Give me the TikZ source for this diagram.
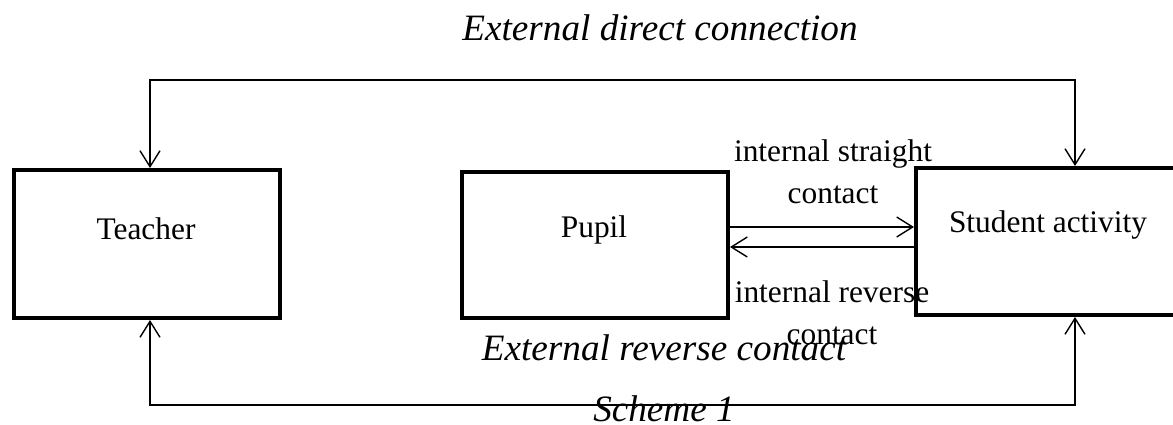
\documentclass[tikz,border=0pt]{standalone}
\usepackage{fontspec}
\setmainfont{Liberation Serif}
\usetikzlibrary{arrows.meta}

\tikzset{
	caja/.style={draw, line width=2pt, inner sep=0pt},
	texto/.style={font=\fontsize{15.7}{21}\selectfont, inner sep=0pt},
	cursiva/.style={font=\fontsize{18.6}{22}\selectfont\itshape, inner sep=0pt},
	enlace/.style={line width=0.7pt},
	>={Straight Barb[length=8pt, width=10pt]}
}

\begin{document}
\begin{tikzpicture}[x=0.5pt, y=-0.5pt]

	\useasboundingbox (0,0) rectangle (1173,424);

	% 1. Definición de Nodos (cajas)
	\node[caja, minimum width=133pt, minimum height=74pt] (T) at (147,244) {};
	\node[caja, minimum width=133pt, minimum height=73pt] (P) at (595,245) {};
	\node[caja, minimum width=131pt, minimum height=73.5pt] (S) at (1047,241.5) {};

	% Textos de las cajas
	\node[texto] (Tlbl) at (146,229) {Teacher};
	\node[texto] (Plbl) at (594,230) {Pupil};
	\node[texto] (Slbl) at (1048,225) {Student activity};

	% Esquinas de los lazos externos
	\coordinate (tl) at (150,80);
	\coordinate (tr) at (1075,80);
	\coordinate (bl) at (150,405);
	\coordinate (br) at (1075,405);
	\coordinate (fwd) at (0,227);
	\coordinate (bwd) at (0,247);

	% 2. Conexiones externas
	\draw[enlace, <->] (T.north -| tl) -- (tl) -- (tr) -- (S.north -| tr);
	\draw[enlace, <->] (T.south -| bl) -- (bl) -- (br) -- (S.south -| br);

	% 3. Conexiones internas
	\draw[enlace, ->] (P.east |- fwd) -- (S.west |- fwd);
	\draw[enlace, ->] (S.west |- bwd) -- (P.east |- bwd);

	% Etiquetas
	\node[texto, align=center] (straight) at (833,172) {internal straight\\contact};
	\node[texto, align=center] (revlbl) at (832,313) {internal reverse\\contact};
	\node[cursiva] (direct) at (660,28) {External direct connection};
	\node[cursiva] (reverse) at (664,348) {External reverse contact};
	\node[cursiva] (scheme) at (664,409) {Scheme 1};

\end{tikzpicture}
\end{document}
